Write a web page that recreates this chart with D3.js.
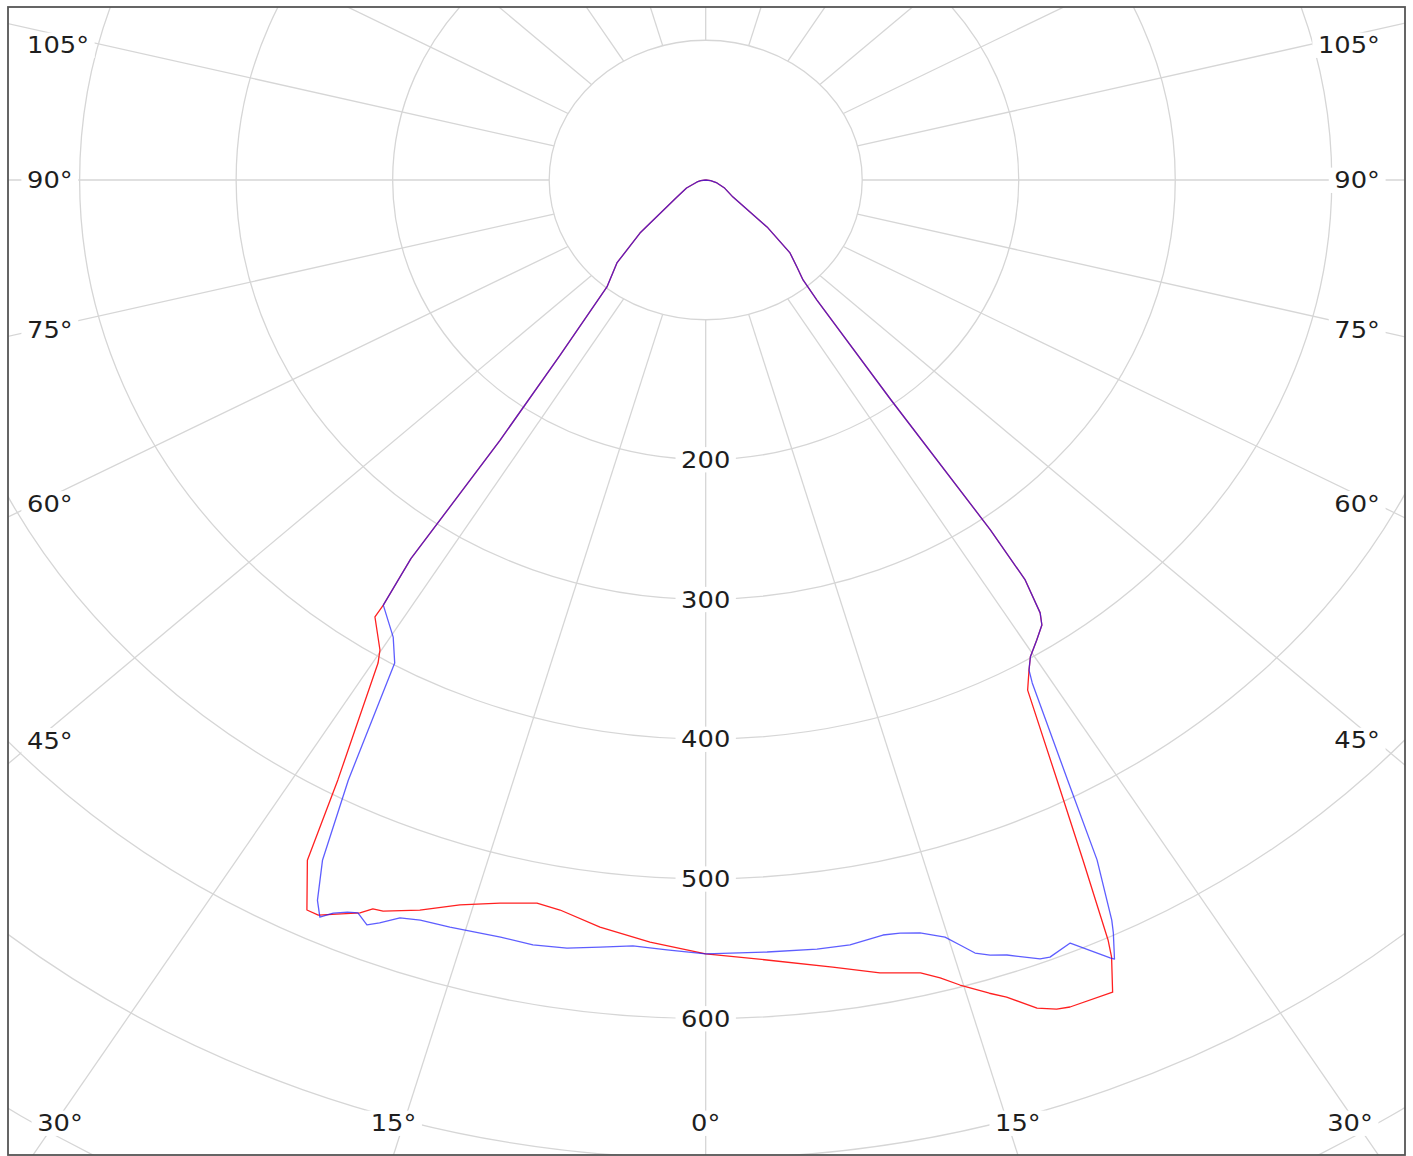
<!DOCTYPE html>
<html>
<head>
<meta charset="utf-8">
<script src="https://cdnjs.cloudflare.com/ajax/libs/d3/7.8.5/d3.min.js"></script>
<style>
  html, body { margin: 0; padding: 0; background: #fff; }
  svg { display: block; }
  text { font-family: "DejaVu Sans", Verdana, sans-serif; font-size: 23px; fill: #1e1e1e; }
</style>
</head>
<body>
<script>
"use strict";

// grid values
const ringValues = [100, 200, 300, 400, 500, 600, 700, 800];
const ringLabels = [200, 300, 400, 500, 600];
const spokeAngles = d3.range(-180, 180, 15);
const sideLabelAngles = [105, 90, 75, 60, 45];
const bottomLabelAngles = [-30, -15, 0, 15, 30];

// red curve (angle in degrees from nadir, value)
const redAngles = [-90, -82, -75.6, -65, -56.5, -47.9, -43.7, -39.5, -36.6, -35.2, -34.8, -34.1,
  -34.05, -31.75, -31.2, -28.7, -27.6, -26.0, -25.2, -22.84, -22.18, -21.5, -19.27,
  -16.84, -14.25, -11.77, -10.1, -7.2, -3.73, 0, 4.0, 8.2, 11.1, 13.6, 14.7, 15.75,
  17.3, 18.2, 19.66, 20.7, 21.47, 24.1, 25.0, 25.3, 26.35, 27.6, 29.4, 30.5,
  31.3, 32.7, 34.0, 34.6, 35.5, 36.0, 36.95, 39.6, 41.0, 43.1, 45.9, 49.4, 55, 65, 73.7, 82, 90];
const redValues = [0, 3.2, 5.7, 13.5, 22.0, 56.6, 82.1, 99.2, 156, 228, 330, 367.4,
  377.4, 395.5, 404.1, 489.4, 549.3, 581.2, 581.3, 569.1, 563.3, 562.3, 553.4,
  542, 533.8, 528.5, 530.6, 538.8, 546.5, 553.8, 559.5, 569, 578.2, 583.7, 590.3, 598.5,
  609.5, 615.5, 629.2, 634.3, 635.9, 636.7, 613.6, 601.5, 543, 484.5, 419, 407,
  399.3, 391.4, 384.1, 376.3, 351.5, 309.4, 197, 111.5, 94.8, 85.3, 75.0, 51.6, 21.3, 13, 7.5, 3.2, 0];

// blue curve
const blueAngles = [-90, -82, -75.6, -65, -56.5, -47.9, -43.7, -39.5, -36.6, -35.2, -34.8, -34.1,
  -31.4, -29.9, -28.0, -26.7, -25.7, -25.05, -24.4, -23.6, -22.96, -22.1, -21.4, -20.3,
  -19.0, -17.0, -13.6, -11.4, -9.16, -7.0, -4.85, -2.57, 0, 4.06, 7.36, 9.56, 11.84,
  12.98, 14.26, 15.76, 16.53, 17.28, 18.14, 19.14, 20.97, 21.58, 23.1, 24.9, 25.1,
  25.8, 26.1, 27.2, 28.3, 30.1, 30.5,
  31.3, 32.7, 34.0, 34.6, 35.5, 36.0, 36.95, 39.6, 41.0, 43.1, 45.9, 49.4, 55, 65, 73.7, 82, 90];
const blueValues = [0, 3.2, 5.7, 13.5, 22.0, 56.6, 82.1, 99.2, 156, 228, 330, 367.4,
  383.2, 398.6, 486.4, 544.9, 572, 582.2, 576, 571.7, 569.6, 575.3, 571, 563,
  560.1, 559, 557.4, 558.4, 556.7, 553, 550, 551.5, 553.8, 553.8, 554.9, 555.1, 552,
  553, 555.9, 562.9, 571, 579.3, 583.6, 587, 596.9, 598, 593.6, 613.7, 615.7,
  598.4, 589.7, 547, 487.8, 416, 407,
  399.3, 391.4, 384.1, 376.3, 351.5, 309.4, 197, 111.5, 94.8, 85.3, 75.0, 51.6, 21.3, 13, 7.5, 3.2, 0];

const W = 1413, H = 1156;
const frame = { x0: 8, y0: 7, x1: 1405, y1: 1155 };
const cx = 705.7, cy = 180;
const aspect = 1.12;        // the whole diagram is drawn wider than tall
const spokeAspect = 1.195;  // spokes are spread a little more than the rings
const textStretch = 1.12;

const r = d3.scaleLinear().domain([0, 100]).range([0, 139.75]);
const rad = d => d * Math.PI / 180;

// point of a value at an angle (0 = straight down, positive = right)
function pt(a, v) {
  return [cx + aspect * r(v) * Math.sin(rad(a)), cy + r(v) * Math.cos(rad(a))];
}

const svg = d3.select("body").append("svg").attr("width", W).attr("height", H);

svg.append("defs").append("clipPath").attr("id", "plotclip")
  .append("rect")
  .attr("x", frame.x0).attr("y", frame.y0)
  .attr("width", frame.x1 - frame.x0).attr("height", frame.y1 - frame.y0);

svg.append("rect").attr("width", W).attr("height", H).attr("fill", "#fff");

const plot = svg.append("g").attr("clip-path", "url(#plotclip)");

// rings
plot.append("g").selectAll("ellipse")
  .data(ringValues)
  .enter().append("ellipse")
  .attr("cx", cx).attr("cy", cy)
  .attr("rx", d => aspect * r(d)).attr("ry", d => r(d))
  .attr("fill", "none").attr("stroke", "#d6d6d6").attr("stroke-width", 1.3);

// spokes start on the inner ring
plot.append("g").selectAll("line")
  .data(spokeAngles)
  .enter().append("line")
  .each(function(a) {
    const dx = spokeAspect * Math.sin(rad(a)), dy = Math.cos(rad(a));
    const rx = aspect * r(100), ry = r(100);
    const t0 = 1 / Math.sqrt((dx / rx) * (dx / rx) + (dy / ry) * (dy / ry));
    const t1 = 3000;
    d3.select(this)
      .attr("x1", cx + dx * t0).attr("y1", cy + dy * t0)
      .attr("x2", cx + dx * t1).attr("y2", cy + dy * t1);
  })
  .attr("stroke", "#d6d6d6").attr("stroke-width", 1.3);

// label with white box
function label(g, txt, x, y, anchor) {
  const lg = g.append("g").attr("transform", "translate(" + x + "," + y + ") scale(" + textStretch + ",1)");
  const t = lg.append("text").attr("text-anchor", anchor).attr("dy", "0.36em").text(txt);
  const b = t.node().getBBox();
  lg.insert("rect", "text")
    .attr("x", b.x - 5).attr("y", b.y + 1)
    .attr("width", b.width + 10).attr("height", b.height - 2)
    .attr("fill", "#fff");
}

const labels = plot.append("g");

ringLabels.forEach(v => {
  const p = pt(0, v);
  label(labels, String(v), p[0], p[1], "middle");
});

// side labels sit where the spoke crosses a column near the frame
const colL = 36, colR = 1375;
sideLabelAngles.forEach(a => {
  [-1, 1].forEach(s => {
    const ang = s * a;
    const dx = spokeAspect * Math.sin(rad(ang)), dy = Math.cos(rad(ang));
    const X = s < 0 ? colL : colR;
    const t = (X - cx) / dx;
    const y = Math.max(45, cy + t * dy);
    if (s < 0) label(labels, a + "°", 27, y, "start");
    else label(labels, a + "°", 1380, y, "end");
  });
});

// bottom labels: where the spoke leaves the frame, kept inside it
const rowB = 1123;
bottomLabelAngles.forEach(a => {
  const dx = spokeAspect * Math.sin(rad(a)), dy = Math.cos(rad(a));
  const t = (frame.y1 - cy) / dy;
  const x = Math.max(60, Math.min(1350, cx + t * dx));
  label(labels, Math.abs(a) + "°", x, rowB, "middle");
});

// curves
const line = d3.line().x(d => d[0]).y(d => d[1]);
const redPts = redAngles.map((a, i) => pt(a, redValues[i]));
const bluePts = blueAngles.map((a, i) => pt(a, blueValues[i]));

plot.append("path").attr("d", line(redPts))
  .attr("fill", "none").attr("stroke", "#ff2020").attr("stroke-width", 1.3)
  .attr("stroke-linejoin", "round");
plot.append("path").attr("d", line(bluePts))
  .attr("fill", "none").attr("stroke", "#1a1aff").attr("stroke-width", 1.3)
  .attr("stroke-opacity", 0.7).attr("stroke-linejoin", "round");

// frame
svg.append("rect")
  .attr("x", frame.x0).attr("y", frame.y0)
  .attr("width", frame.x1 - frame.x0).attr("height", frame.y1 - frame.y0)
  .attr("fill", "none").attr("stroke", "#555").attr("stroke-width", 1.8);
</script>
</body>
</html>
